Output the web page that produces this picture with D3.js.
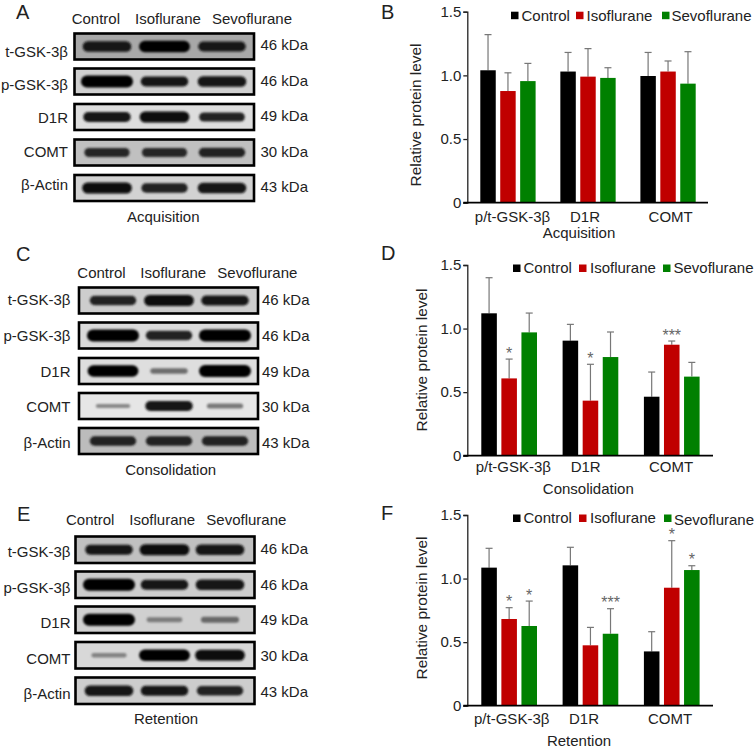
<!DOCTYPE html>
<html>
<head>
<meta charset="utf-8">
<script src="https://cdn.jsdelivr.net/npm/d3@7"></script>
<style>
  html, body { margin: 0; padding: 0; background: #fff; }
  svg { display: block; }
  text { font-family: "Liberation Sans", Arial, sans-serif; font-size: 15px; fill: #222; }
</style>
</head>
<body>
<div id="chart"></div>
<script>
//<------ data ------>
var categories = ["p/t-GSK-3β", "D1R", "COMT"];
var series = ["Control", "Isoflurane", "Sevoflurane"];
var yTicks = [0, 0.5, 1.0, 1.5];

// means by category, one array per series
var acqMeans = [[1.04, 1.03, 0.995], [0.877, 0.99, 1.03], [0.955, 0.98, 0.935]];
var acqTops = [[1.32, 1.18, 1.18], [1.02, 1.21, 1.113], [1.094, 1.06, 1.186]];
var conMeans = [[1.12, 0.905, 0.464], [0.608, 0.433, 0.873], [0.97, 0.776, 0.622]];
var conTops = [[1.40, 1.033, 0.658], [0.76, 0.719, 0.902], [1.122, 0.973, 0.734]];
var retMeans = [[1.086, 1.104, 0.427], [0.682, 0.475, 0.928], [0.627, 0.566, 1.067]];
var retTops = [[1.238, 1.246, 0.582], [0.771, 0.616, 1.298], [0.823, 0.763, 1.101]];

var conStars = [["", "", ""], ["*", "*", "***"], ["", "", ""]];
var retStars = [["", "", ""], ["*", "", "*"], ["*", "***", "*"]];
var noStars = [["", "", ""], ["", "", ""], ["", "", ""]];

// blot rows
var proteins = ["t-GSK-3β", "p-GSK-3β", "D1R", "COMT", "β-Actin"];
var weights = ["46 kDa", "46 kDa", "49 kDa", "30 kDa", "43 kDa"];
// band density by protein, 3 lanes
var acqBands = [[0.85, 0.95, 0.8], [1, 0.8, 0.85], [0.8, 0.9, 0.72], [0.7, 0.7, 0.75], [0.9, 0.75, 0.85]];
var conBands = [[0.75, 0.9, 0.8], [1, 0.75, 1], [0.95, 0.35, 1], [0.22, 0.8, 0.3], [0.75, 0.75, 0.75]];
var retBands = [[0.8, 0.9, 0.85], [1, 0.8, 0.85], [1, 0.28, 0.38], [0.25, 0.95, 0.9], [0.85, 0.8, 0.75]];
// background grey of each blot row
var acqBack = [168, 208, 222, 192, 210];
var conBack = [205, 218, 222, 230, 188];
var retBack = [192, 205, 208, 216, 205];

//<------ layout ------>
var svg = d3.select("#chart").append("svg")
    .attr("width", 755)
    .attr("height", 747);

var defs = svg.append("defs");
defs.append("filter")
    .attr("id", "soft")
    .attr("x", "-20%").attr("y", "-60%")
    .attr("width", "140%").attr("height", "220%")
    .append("feGaussianBlur")
    .attr("stdDeviation", 1);

var colors = d3.scaleOrdinal().domain(series).range(["#000000", "#c00000", "#008000"]);

var bandWidth = d3.scaleLinear().domain([0.2, 1]).range([34, 52]);
var bandHeight = d3.scaleLinear().domain([0.2, 1]).range([4, 12]);
var bandShade = d3.scaleLinear().domain([0.2, 0.7, 1]).range(["#8c8c8c", "#262626", "#000000"]);

function label(g, str, x, y, anchor, size) {
    return g.append("text")
        .attr("x", x)
        .attr("y", y)
        .attr("text-anchor", anchor || "start")
        .style("font-size", size ? size + "px" : null)
        .text(str);
}

function drawBlot(p) {
    var g = svg.append("g").attr("class", "blot");

    label(g, p.letter, p.letterX, p.letterY, "start", 20);
    series.forEach(function(s, i) {
        label(g, s, p.headX[i], p.headY);
    });
    label(g, p.title, p.titleX, p.titleY, "middle");

    var lane = d3.scalePoint().domain(series).range(p.laneRange);

    proteins.forEach(function(name, r) {
        var top = p.rowTop[r];
        var h = p.rowH;
        var row = g.append("g");

        var clipId = "clip" + p.letter + r;
        defs.append("clipPath").attr("id", clipId)
            .append("rect")
            .attr("x", p.left).attr("y", top)
            .attr("width", p.right - p.left).attr("height", h);

        var grey = p.back[r];
        row.append("rect")
            .attr("x", p.left).attr("y", top)
            .attr("width", p.right - p.left).attr("height", h)
            .style("fill", d3.rgb(grey, grey, grey));

        row.append("g")
            .attr("clip-path", "url(#" + clipId + ")")
            .selectAll("rect")
            .data(p.bands[r])
            .enter().append("rect")
            .attr("x", function(d, i) { return lane(series[i]) - bandWidth(d) / 2; })
            .attr("y", function(d) { return top + h / 2 - bandHeight(d) / 2; })
            .attr("width", function(d) { return bandWidth(d); })
            .attr("height", function(d) { return bandHeight(d); })
            .attr("rx", function(d) { return bandHeight(d) / 2; })
            .style("fill", function(d) { return bandShade(d); })
            .attr("filter", "url(#soft)");

        row.append("rect")
            .attr("x", p.left).attr("y", top)
            .attr("width", p.right - p.left).attr("height", h)
            .style("fill", "none")
            .style("stroke", "#000")
            .style("stroke-width", 2.6);

        label(g, name, p.nameX, p.nameY[r], "end");
        label(g, weights[r], p.kdaX, p.kdaY[r]);
    });
}

function drawBars(p) {
    var g = svg.append("g").attr("class", "bars");

    var y = d3.scaleLinear().domain([0, 1.5]).range([p.y0, p.y1]);
    var x0 = d3.scaleBand().domain(categories)
        .range([p.barStart, p.barEnd])
        .paddingInner(p.groupGap);
    var x1 = d3.scaleBand().domain(series)
        .range([0, x0.bandwidth()])
        .paddingInner(0.225);

    label(g, p.letter, p.letterX, p.letterY, "start", 20);

    series.forEach(function(s, si) {
        var rows = categories.map(function(c, ci) {
            return { cat: c, mean: p.means[si][ci], top: p.tops[si][ci], star: p.stars[si][ci] };
        });
        var sg = g.append("g");

        sg.selectAll("line.err")
            .data(rows)
            .enter().append("line")
            .attr("class", "err")
            .attr("x1", function(d) { return x0(d.cat) + x1(s) + x1.bandwidth() / 2; })
            .attr("x2", function(d) { return x0(d.cat) + x1(s) + x1.bandwidth() / 2; })
            .attr("y1", function(d) { return y(d.mean); })
            .attr("y2", function(d) { return y(d.top); })
            .style("stroke", "#777")
            .style("stroke-width", 1.2);

        sg.selectAll("line.cap")
            .data(rows)
            .enter().append("line")
            .attr("class", "cap")
            .attr("x1", function(d) { return x0(d.cat) + x1(s) + x1.bandwidth() / 2 - 3.5; })
            .attr("x2", function(d) { return x0(d.cat) + x1(s) + x1.bandwidth() / 2 + 3.5; })
            .attr("y1", function(d) { return y(d.top); })
            .attr("y2", function(d) { return y(d.top); })
            .style("stroke", "#777")
            .style("stroke-width", 1.2);

        sg.selectAll("rect")
            .data(rows)
            .enter().append("rect")
            .attr("x", function(d) { return x0(d.cat) + x1(s); })
            .attr("y", function(d) { return y(d.mean); })
            .attr("width", x1.bandwidth())
            .attr("height", function(d) { return y(0) - y(d.mean); })
            .style("fill", colors(s));

        sg.selectAll("text")
            .data(rows.filter(function(d) { return d.star; }))
            .enter().append("text")
            .attr("x", function(d) { return x0(d.cat) + x1(s) + x1.bandwidth() / 2; })
            .attr("y", function(d) { return y(d.top) - 0.5; })
            .attr("text-anchor", "middle")
            .style("fill", "#666")
            .style("font-size", "16px")
            .text(function(d) { return d.star; });
    });

    var yAxis = d3.axisLeft(y)
        .tickValues(yTicks)
        .tickSize(4)
        .tickPadding(2)
        .tickFormat(function(d) { return d === 0 ? "0" : d3.format(".1f")(d); });

    var ax = g.append("g")
        .attr("transform", "translate(" + p.axisX + ",0)")
        .call(yAxis);
    ax.selectAll("path, line").style("stroke", "#222").style("stroke-width", 1.3);
    ax.selectAll("text").style("font-size", "15px");
    ax.attr("font-family", null).attr("font-size", null);

    g.append("line")
        .attr("x1", p.axisX - 4)
        .attr("x2", p.axisEnd)
        .attr("y1", y(0))
        .attr("y2", y(0))
        .style("stroke", "#000")
        .style("stroke-width", 1.8);

    g.append("text")
        .attr("transform", "translate(" + p.yTitleX + "," + p.yTitleY + ") rotate(-90)")
        .attr("text-anchor", "middle")
        .style("font-size", "15.4px")
        .text("Relative protein level");

    categories.forEach(function(c, i) {
        label(g, c, p.catX[i], p.catY, "middle");
    });
    label(g, p.title, p.titleX, p.titleY, "middle");

    series.forEach(function(s, i) {
        g.append("rect")
            .attr("x", p.keyX[i])
            .attr("y", p.keyY)
            .attr("width", 7.5)
            .attr("height", 7.5)
            .style("fill", colors(s));
        label(g, s, p.keyText[i], p.keyBase[i]);
    });
}

//<------ blots ------>
drawBlot({
    letter: "A", letterX: 16, letterY: 18.5,
    headX: [71.7, 135, 212], headY: 24,
    title: "Acquisition", titleX: 163.3, titleY: 222,
    left: 74.5, right: 254, rowH: 26,
    rowTop: [33.5, 68.5, 104, 139.5, 175],
    laneRange: [107, 222],
    bands: acqBands, back: acqBack,
    nameX: 68, nameY: [57, 89.5, 123, 157, 190],
    kdaX: 260.5, kdaY: [50, 85.5, 121, 156.5, 192]
});
drawBlot({
    letter: "C", letterX: 16, letterY: 260.5,
    headX: [77.3, 140.3, 217.3], headY: 277.5,
    title: "Consolidation", titleX: 170.7, titleY: 475,
    left: 79, right: 258, rowH: 26,
    rowTop: [287.5, 322.5, 358, 393, 428],
    laneRange: [113, 225],
    bands: conBands, back: conBack,
    nameX: 70.5, nameY: [305, 341, 376.5, 411.5, 447.5],
    kdaX: 262, kdaY: [305, 341, 376.5, 411.5, 447.5]
});
drawBlot({
    letter: "E", letterX: 17, letterY: 521,
    headX: [66, 129.3, 206.3], headY: 525,
    title: "Retention", titleX: 166, titleY: 724,
    left: 75.5, right: 254.5, rowH: 26.5,
    rowTop: [536.5, 571.5, 606.5, 642, 677.5],
    laneRange: [109, 220],
    bands: retBands, back: retBack,
    nameX: 70.5, nameY: [556.5, 592.5, 627.5, 664, 699],
    kdaX: 260.5, kdaY: [554, 590, 625, 660.5, 696.5]
});

//<------ bar charts ------>
drawBars({
    letter: "B", letterX: 381, letterY: 18.5,
    means: acqMeans, tops: acqTops, stars: noStars,
    y0: 202.7, y1: 11.7, axisX: 467.3, axisEnd: 708,
    barStart: 480.3, barEnd: 695.7, groupGap: 0.309,
    yTitleX: 420.7, yTitleY: 115,
    catX: [512.5, 585, 670.7], catY: 221.7,
    title: "Acquisition", titleX: 579, titleY: 238,
    keyX: [511, 576, 662], keyY: 11.7,
    keyText: [521.5, 586.5, 671.5], keyBase: [20.7, 20.7, 20.7]
});
drawBars({
    letter: "D", letterX: 381, letterY: 260,
    means: conMeans, tops: conTops, stars: conStars,
    y0: 455.7, y1: 265, axisX: 467.3, axisEnd: 713,
    barStart: 481.3, barEnd: 699.6, groupGap: 0.315,
    yTitleX: 426.7, yTitleY: 360,
    catX: [513.3, 585.7, 671], catY: 471.7,
    title: "Consolidation", titleX: 588.3, titleY: 494,
    keyX: [513, 579, 663], keyY: 264.5,
    keyText: [523.5, 590, 673.5], keyBase: [273, 273, 273]
});
drawBars({
    letter: "F", letterX: 381, letterY: 520,
    means: retMeans, tops: retTops, stars: retStars,
    y0: 705.7, y1: 515, axisX: 467.3, axisEnd: 713,
    barStart: 481.3, barEnd: 699.6, groupGap: 0.315,
    yTitleX: 426.7, yTitleY: 608,
    catX: [511.7, 584, 670], catY: 724,
    title: "Retention", titleX: 579, titleY: 745.5,
    keyX: [513, 579, 664], keyY: 514.5,
    keyText: [523.5, 590, 674], keyBase: [523, 523, 524.5]
});
</script>
</body>
</html>
